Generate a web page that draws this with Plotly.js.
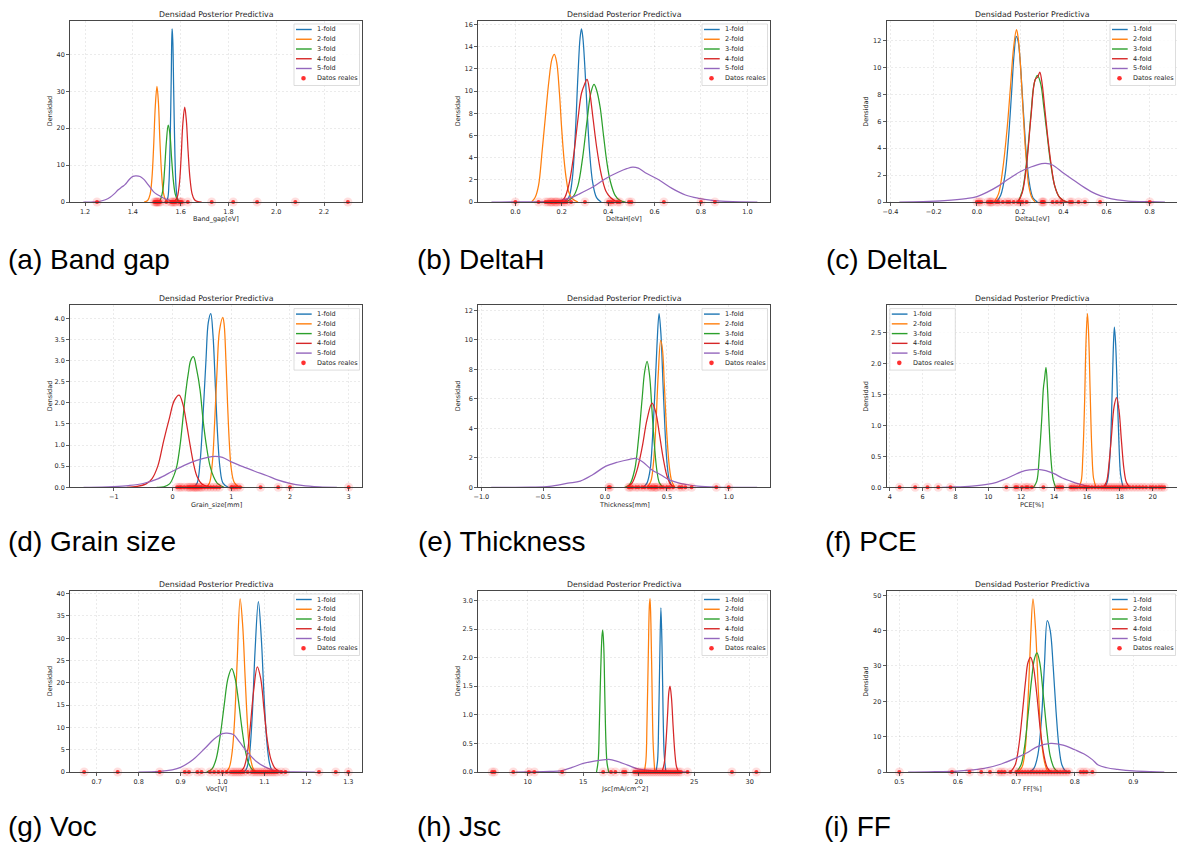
<!DOCTYPE html>
<html>
<head>
<meta charset="utf-8">
<script src="https://cdn.plot.ly/plotly-3.0.1.min.js"></script>
<style>
html,body{margin:0;padding:0;background:#fff;overflow:hidden}
#chart{width:1177px;height:844px}
</style>
</head>
<body>
<div id="chart"></div>
<script>
// ---------------- DATA ----------------
const foldNames = ["1-fold", "2-fold", "3-fold", "4-fold", "5-fold"];
const realLabel = "Datos reales";
const plotTitle = "Densidad Posterior Predictiva";
const yLabel = "Densidad";
const captions = ["(a) Band gap", "(b) DeltaH", "(c) DeltaL", "(d) Grain size", "(e) Thickness", "(f) PCE", "(g) Voc", "(h) Jsc", "(i) FF"];
const xLabels = ["Band_gap[eV]", "DeltaH[eV]", "DeltaL[eV]", "Grain_size[mm]", "Thickness[mm]", "PCE[%]", "Voc[V]", "Jsc[mA/cm^2]", "FF[%]"];

// (a) Band gap  [x, density]
const bandGap1 = [[1.535,0],[1.545,0.8],[1.551,5],[1.556,16],[1.561,35],[1.564,46.9],[1.567,44],[1.571,30],[1.576,13],[1.581,4],[1.587,0.8],[1.595,0]];
const bandGap2 = [[1.447,0],[1.462,0.4],[1.472,2],[1.48,6.5],[1.487,15],[1.494,26],[1.501,31.3],[1.507,27],[1.513,17],[1.52,8],[1.528,2.5],[1.538,0.5],[1.55,0]];
const bandGap3 = [[1.505,0],[1.515,0.6],[1.525,3],[1.533,9],[1.54,16],[1.548,20.8],[1.555,18.5],[1.562,12],[1.57,5.5],[1.578,2],[1.588,0.4],[1.6,0]];
const bandGap4 = [[1.57,0],[1.584,1],[1.594,4.5],[1.602,12],[1.609,21],[1.617,25.7],[1.624,22],[1.631,14],[1.639,6.5],[1.648,2.2],[1.658,0.6],[1.672,0.1],[1.688,0]];
const bandGap5 = [[1.193,0],[1.24,0.05],[1.263,0.2],[1.285,0.6],[1.305,1.3],[1.322,2.2],[1.339,3.3],[1.355,4.1],[1.367,4.7],[1.385,6.1],[1.40,6.95],[1.415,7.05],[1.43,6.9],[1.445,6.2],[1.458,5.2],[1.472,4.0],[1.486,2.8],[1.5,2.1],[1.514,1.6],[1.528,1.1],[1.541,0.7],[1.555,0.4],[1.57,0.2],[1.59,0.05],[1.61,0]];
const bandGapReal = [1.25,1.49,1.495,1.50,1.50,1.505,1.51,1.515,1.54,1.56,1.565,1.57,1.575,1.58,1.595,1.60,1.605,1.63,1.73,1.82,1.92,2.08,2.30];

// (b) DeltaH
const deltaH1 = [[0.21,0],[0.23,0.4],[0.245,2],[0.258,6],[0.27,11.5],[0.279,14.8],[0.285,15.6],[0.291,14.8],[0.30,12],[0.31,8],[0.32,4.5],[0.333,1.8],[0.35,0.4],[0.37,0]];
const deltaH2 = [[0.07,0],[0.085,0.4],[0.10,1.5],[0.115,4.5],[0.13,7.8],[0.145,11],[0.158,12.9],[0.168,13.3],[0.178,12.6],[0.19,9.8],[0.20,6.5],[0.21,3.8],[0.22,2],[0.23,0.9],[0.245,0.3],[0.27,0]];
const deltaH3 = [[0.22,0],[0.25,0.5],[0.27,1.5],[0.29,4],[0.31,7.5],[0.325,9.8],[0.339,10.6],[0.35,10.1],[0.365,8.6],[0.38,6],[0.395,3.5],[0.41,1.8],[0.43,0.6],[0.45,0.15],[0.475,0]];
const deltaH4 = [[0.19,0],[0.21,0.3],[0.23,1.5],[0.25,4],[0.27,7.5],[0.285,9.8],[0.298,10.6],[0.309,11.05],[0.32,10],[0.335,7.5],[0.35,5],[0.37,2.5],[0.39,1],[0.41,0.4],[0.43,0.1],[0.45,0]];
const deltaH5 = [[-0.103,0],[0.05,0.01],[0.15,0.06],[0.2,0.18],[0.24,0.4],[0.273,0.7],[0.33,1.3],[0.388,2.1],[0.445,2.7],[0.48,3.0],[0.506,3.15],[0.53,3.05],[0.56,2.64],[0.618,2.0],[0.675,1.23],[0.733,0.63],[0.79,0.33],[0.848,0.15],[0.905,0.06],[0.97,0.01],[1.043,0]];
const deltaHReal = [0.0,0.10,0.13,0.14,0.15,0.155,0.16,0.17,0.175,0.18,0.19,0.20,0.21,0.22,0.24,0.30,0.40,0.41,0.42,0.44,0.45,0.49,0.50,0.64,0.80,0.86];

// (c) DeltaL
const deltaL1 = [[0.09,0],[0.11,0.5],[0.13,2],[0.145,4.5],[0.16,8],[0.172,11],[0.182,12.3],[0.19,12],[0.20,10.5],[0.21,8],[0.22,5.5],[0.23,3.2],[0.245,1.2],[0.26,0.3],[0.28,0]];
const deltaL2 = [[0.08,0],[0.10,0.6],[0.12,2.5],[0.14,5.5],[0.155,8.5],[0.17,11.5],[0.183,12.8],[0.19,12.3],[0.20,10.5],[0.21,7.8],[0.22,5],[0.23,2.8],[0.24,1.2],[0.255,0.3],[0.27,0]];
const deltaL3 = [[0.19,0],[0.21,0.8],[0.23,3],[0.25,6.5],[0.265,8.8],[0.28,9.4],[0.295,8.8],[0.31,7],[0.325,5],[0.34,3],[0.36,1.2],[0.38,0.4],[0.40,0.1],[0.42,0]];
const deltaL4 = [[0.19,0],[0.21,0.7],[0.23,2.8],[0.25,6.3],[0.27,9.1],[0.282,9.3],[0.291,9.65],[0.30,9.0],[0.315,6.8],[0.33,4.5],[0.345,2.6],[0.36,1.2],[0.38,0.4],[0.40,0.1],[0.42,0]];
const deltaL5 = [[-0.359,0],[-0.25,0.03],[-0.15,0.1],[-0.05,0.25],[0.0,0.4],[0.05,0.75],[0.1,1.2],[0.15,1.75],[0.2,2.25],[0.25,2.6],[0.3,2.85],[0.319,2.87],[0.35,2.75],[0.4,2.15],[0.45,1.6],[0.5,1.05],[0.55,0.6],[0.6,0.32],[0.65,0.15],[0.7,0.07],[0.8,0.02],[0.87,0]];
const deltaLReal = [0.0,0.01,0.02,0.05,0.06,0.065,0.07,0.09,0.10,0.12,0.14,0.15,0.17,0.19,0.20,0.21,0.23,0.30,0.305,0.31,0.35,0.37,0.39,0.43,0.44,0.47,0.50,0.57,0.80];

// (d) Grain size
const grain1 = [[0.36,0],[0.42,0.1],[0.47,0.6],[0.52,1.7],[0.57,3.0],[0.61,3.9],[0.652,4.11],[0.69,3.6],[0.73,2.4],[0.77,1.2],[0.81,0.45],[0.86,0.1],[0.95,0]];
const grain2 = [[0.58,0],[0.63,0.1],[0.68,0.6],[0.72,1.6],[0.76,2.8],[0.80,3.7],[0.857,4.02],[0.88,3.85],[0.91,3.0],[0.94,1.9],[0.97,1.0],[1.0,0.45],[1.05,0.12],[1.12,0.02],[1.2,0]];
const grain3 = [[-0.27,0],[-0.15,0.01],[-0.05,0.08],[0.03,0.3],[0.074,0.5],[0.13,1.0],[0.187,1.75],[0.23,2.3],[0.27,2.7],[0.31,3.0],[0.357,3.09],[0.41,2.8],[0.47,2.3],[0.52,1.6],[0.58,0.96],[0.64,0.5],[0.7,0.25],[0.76,0.1],[0.81,0.05],[0.88,0]];
const grain4 = [[-0.78,0],[-0.6,0.02],[-0.45,0.08],[-0.35,0.2],[-0.25,0.5],[-0.15,1.1],[-0.05,1.65],[0.03,2.05],[0.113,2.18],[0.18,1.95],[0.24,1.5],[0.3,1.0],[0.36,0.55],[0.42,0.25],[0.5,0.08],[0.6,0.02],[0.7,0]];
const grain5 = [[-1.514,0],[-1.2,0.005],[-1.0,0.015],[-0.75,0.04],[-0.5,0.09],[-0.25,0.2],[0.0,0.38],[0.2,0.52],[0.4,0.63],[0.6,0.71],[0.726,0.73],[0.85,0.71],[1.0,0.6],[1.2,0.49],[1.4,0.38],[1.6,0.28],[1.8,0.17],[2.0,0.095],[2.2,0.045],[2.5,0.01],[2.8,0]];
const grainReal = [0.08,0.12,0.15,0.2,0.25,0.28,0.3,0.33,0.36,0.38,0.4,0.42,0.45,0.48,0.5,0.55,0.6,0.65,0.7,0.75,0.8,1.0,1.02,1.06,1.1,1.15,1.5,1.8,2.0,3.0];

// (e) Thickness
const thick1 = [[0.31,0],[0.34,0.3],[0.365,1.2],[0.385,3.5],[0.405,6.8],[0.42,9.6],[0.437,11.77],[0.452,10.4],[0.468,7.2],[0.485,3.9],[0.502,1.6],[0.52,0.5],[0.545,0]];
const thick2 = [[0.34,0],[0.37,0.4],[0.39,1.5],[0.41,4.0],[0.43,7.6],[0.45,9.97],[0.465,9.3],[0.48,6.9],[0.50,3.6],[0.52,1.4],[0.54,0.4],[0.565,0]];
const thick3 = [[0.16,0],[0.20,0.2],[0.24,1.2],[0.27,3.2],[0.30,6.0],[0.32,7.8],[0.34,8.54],[0.36,7.6],[0.38,5.2],[0.40,2.8],[0.42,1.1],[0.44,0.3],[0.47,0]];
const thick4 = [[0.18,0],[0.22,0.3],[0.26,1.2],[0.30,2.7],[0.34,4.6],[0.38,5.7],[0.41,5.1],[0.44,3.6],[0.47,2.0],[0.50,0.8],[0.53,0.2],[0.56,0]];
const thick5 = [[-0.92,0],[-0.6,0.01],[-0.45,0.06],[-0.3,0.28],[-0.2,0.42],[-0.1,0.85],[0.0,1.4],[0.1,1.7],[0.2,1.9],[0.25,1.96],[0.3,1.75],[0.38,1.18],[0.45,0.85],[0.52,0.5],[0.6,0.28],[0.65,0.2],[0.75,0.08],[0.9,0.02],[1.23,0]];
const thickReal = [0.03,0.04,0.19,0.2,0.22,0.25,0.27,0.3,0.32,0.35,0.37,0.38,0.4,0.41,0.42,0.45,0.47,0.5,0.52,0.55,0.6,0.62,0.65,0.7,0.9,1.0];

// (f) PCE
const pce1 = [[17.1,0],[17.25,0.1],[17.4,0.5],[17.5,1.2],[17.6,2.2],[17.67,2.59],[17.75,2.3],[17.85,1.5],[17.95,0.7],[18.05,0.2],[18.2,0]];
const pce2 = [[15.5,0],[15.65,0.1],[15.75,0.5],[15.85,1.3],[15.95,2.4],[16.03,2.81],[16.1,2.5],[16.2,1.5],[16.3,0.6],[16.4,0.15],[16.55,0]];
const pce3 = [[12.75,0],[12.95,0.1],[13.1,0.5],[13.25,1.1],[13.35,1.6],[13.42,1.75],[13.51,1.94],[13.6,1.6],[13.7,1.0],[13.8,0.5],[13.95,0.12],[14.1,0]];
const pce4 = [[17.0,0],[17.2,0.1],[17.35,0.4],[17.5,0.85],[17.65,1.3],[17.8,1.45],[17.95,1.25],[18.1,0.75],[18.25,0.3],[18.4,0.08],[18.6,0]];
const pce5 = [[7.2,0],[8.0,0.005],[9.0,0.02],[10.0,0.05],[10.5,0.08],[11.0,0.13],[11.5,0.19],[12.0,0.25],[12.5,0.28],[13.0,0.29],[13.5,0.27],[14.0,0.22],[14.5,0.15],[15.0,0.1],[15.5,0.055],[16.0,0.02],[16.5,0.005],[17.0,0]];
const pceReal = [4.6,5.55,6.3,6.95,7.7,11.1,11.65,11.75,12.05,12.3,12.4,12.65,13.35,14.2,14.35,14.5,15.0,15.1,15.25,15.4,15.6,15.8,15.95,16.1,16.3,16.5,16.7,16.9,17.05,17.2,17.35,17.5,17.65,17.8,17.95,18.1,18.25,18.4,18.6,18.8,19.0,19.2,19.4,19.6,19.85,20.0,20.2,20.4,20.55,20.7];

// (g) Voc
const voc1 = [[1.05,0],[1.056,0.5],[1.063,3],[1.0705,12],[1.0775,27],[1.0855,38.2],[1.0925,30],[1.099,17],[1.1055,7],[1.112,2],[1.118,0.4],[1.125,0]];
const voc2 = [[1.008,0],[1.016,1],[1.023,4.5],[1.029,12],[1.035,25],[1.042,38.8],[1.048,33],[1.054,21],[1.06,10],[1.066,3.5],[1.073,0.8],[1.08,0]];
const voc3 = [[0.962,0],[0.975,0.7],[0.985,3],[0.995,8.5],[1.004,15],[1.013,21],[1.022,23.2],[1.03,21],[1.038,16],[1.046,10],[1.054,5],[1.062,2],[1.072,0.4],[1.08,0]];
const voc4 = [[1.04,0],[1.05,0.8],[1.058,3.5],[1.066,10],[1.074,18],[1.083,23.6],[1.091,21],[1.099,14],[1.107,7],[1.115,3],[1.124,1],[1.133,0.3],[1.14,0]];
const voc5 = [[0.8,0],[0.85,0.15],[0.88,0.5],[0.9,1.05],[0.93,2.8],[0.96,5.5],[0.98,7.4],[1.0,8.6],[1.01,8.7],[1.026,8.4],[1.04,6.8],[1.058,4.6],[1.08,2.4],[1.1,1.2],[1.12,0.45],[1.14,0.15],[1.17,0.03],[1.22,0]];
const vocReal = [0.67,0.75,0.85,0.91,0.92,0.94,0.95,0.97,0.98,0.99,1.0,1.01,1.02,1.025,1.03,1.035,1.04,1.045,1.05,1.06,1.07,1.075,1.08,1.085,1.09,1.095,1.1,1.105,1.11,1.115,1.12,1.125,1.13,1.14,1.15,1.23,1.27,1.30];

// (h) Jsc
const jsc1 = [[21.55,0],[21.7,0.2],[21.8,0.9],[21.9,2.0],[22.0,2.87],[22.1,2.2],[22.2,1.0],[22.3,0.3],[22.45,0]];
const jsc2 = [[20.5,0],[20.65,0.2],[20.75,0.9],[20.87,2.1],[20.96,2.9],[21.02,3.03],[21.1,2.6],[21.2,1.5],[21.3,0.5],[21.45,0]];
const jsc3 = [[16.2,0],[16.35,0.2],[16.45,0.8],[16.58,1.8],[16.7,2.4],[16.76,2.48],[16.85,2.2],[16.95,1.3],[17.05,0.5],[17.15,0.15],[17.3,0]];
const jsc4 = [[22.1,0],[22.3,0.15],[22.45,0.5],[22.6,1.0],[22.72,1.4],[22.82,1.5],[22.95,1.3],[23.1,0.8],[23.25,0.35],[23.4,0.1],[23.6,0]];
const jsc5 = [[8.9,0],[10.0,0.003],[12.0,0.01],[13.0,0.02],[14.0,0.08],[15.0,0.15],[16.0,0.19],[17.0,0.215],[17.3,0.22],[18.0,0.19],[19.0,0.12],[20.0,0.05],[21.0,0.03],[22.0,0.02],[23.5,0.005],[24.5,0]];
const jscReal = [6.8,7.0,8.7,10.1,10.6,13.1,16.8,17.5,17.9,18.6,18.8,19.6,19.8,20.0,20.2,20.4,20.6,20.8,21.0,21.2,21.4,21.6,21.8,22.0,22.2,22.4,22.6,22.8,23.0,23.2,23.4,23.6,23.8,24.4,28.4,30.6];

// (i) FF
const ff1 = [[0.722,0],[0.73,1],[0.737,5],[0.743,15],[0.748,30],[0.753,42.8],[0.758,40],[0.763,30],[0.768,17],[0.773,7],[0.778,2],[0.784,0.3],[0.79,0]];
const ff2 = [[0.703,0],[0.71,1.5],[0.715,6],[0.72,20],[0.7245,38],[0.7285,49],[0.733,40],[0.738,22],[0.743,9],[0.748,3],[0.753,0.5],[0.758,0]];
const ff3 = [[0.70,0],[0.708,2],[0.714,7],[0.72,16],[0.726,26],[0.731,32],[0.7353,33.7],[0.74,31],[0.746,22],[0.752,12],[0.758,4.5],[0.765,1],[0.772,0]];
const ff4 = [[0.69,0],[0.698,2],[0.704,7],[0.71,16],[0.716,26],[0.72,31],[0.7245,32.4],[0.729,30],[0.735,22],[0.741,12],[0.747,5],[0.753,1.2],[0.76,0]];
const ff5 = [[0.515,0],[0.55,0.05],[0.6,0.25],[0.645,1.0],[0.673,2.2],[0.7,4.0],[0.72,5.6],[0.736,7.2],[0.759,8.1],[0.78,7.6],[0.8,6.3],[0.816,5.1],[0.83,3.5],[0.84,2.0],[0.855,1.2],[0.873,0.75],[0.9,0.3],[0.93,0.08],[0.953,0]];
const ffReal = [0.5,0.59,0.62,0.64,0.655,0.67,0.675,0.68,0.69,0.70,0.705,0.71,0.715,0.72,0.725,0.73,0.735,0.74,0.745,0.75,0.755,0.76,0.765,0.77,0.775,0.78,0.785,0.79,0.81,0.815,0.82,0.83];

const curveSets = [
  [bandGap1, bandGap2, bandGap3, bandGap4, bandGap5],
  [deltaH1, deltaH2, deltaH3, deltaH4, deltaH5],
  [deltaL1, deltaL2, deltaL3, deltaL4, deltaL5],
  [grain1, grain2, grain3, grain4, grain5],
  [thick1, thick2, thick3, thick4, thick5],
  [pce1, pce2, pce3, pce4, pce5],
  [voc1, voc2, voc3, voc4, voc5],
  [jsc1, jsc2, jsc3, jsc4, jsc5],
  [ff1, ff2, ff3, ff4, ff5]
];
const realSets = [bandGapReal, deltaHReal, deltaLReal, grainReal, thickReal, pceReal, vocReal, jscReal, ffReal];

// ---------------- STYLE / LAYOUT ----------------
const W = 1177, H = 844;
const foldColors = ["#1f77b4", "#ff7f0e", "#2ca02c", "#d62728", "#9467bd"];
const FONT = "DejaVu Sans, Verdana, sans-serif";
const TXT = "#262626";

// pixel frames of each plot area; vr = virtual right edge (plot cut by page edge)
const frames = [
  {l:70,    r:362,  vr:362,  t:20.7,  b:202,   xr:[1.137,2.359],   x0:1.2,  dx:0.2, xf:".1f", yr:[0,49.1],  dy:10,  yf:"",    leg:"right", cap:[6,259.5]},
  {l:478,   r:770,  vr:770,  t:20.7,  b:202,   xr:[-0.161,1.0975], x0:0,    dx:0.2, xf:".1f", yr:[0,16.34], dy:2,   yf:"",    leg:"right", cap:[415,259.5]},
  {l:886.5, r:1177, vr:1178, t:20.7,  b:202,   xr:[-0.4185,0.926], x0:-0.4, dx:0.2, xf:".1f", yr:[0,13.47], dy:2,   yf:"",    leg:"right", cap:[823.5,259.5], cut:true},
  {l:70,    r:362,  vr:362,  t:305.3, b:487.3, xr:[-1.745,3.227],  x0:-1,   dx:1,   xf:"",    yr:[0,4.306], dy:0.5, yf:".1f", leg:"right", cap:[6,541]},
  {l:478,   r:770,  vr:770,  t:305.3, b:487.3, xr:[-1.027,1.334],  x0:-1,   dx:0.5, xf:".1f", yr:[0,12.34], dy:2,   yf:"",    leg:"right", cap:[416,541]},
  {l:886.5, r:1177, vr:1178, t:305.3, b:487.3, xr:[3.805,21.48],   x0:4,    dx:2,   xf:"",    yr:[0,2.943], dy:0.5, yf:".1f", leg:"left",  cap:[822.5,541], cut:true},
  {l:70,    r:362,  vr:362,  t:590.7, b:772,   xr:[0.6363,1.3326], x0:0.7,  dx:0.1, xf:".1f", yr:[0,40.66], dy:5,   yf:"",    leg:"right", cap:[6,826]},
  {l:478,   r:770,  vr:770,  t:590.7, b:772,   xr:[5.52,31.83],    x0:10,   dx:5,   xf:"",    yr:[0,3.17],  dy:0.5, yf:".1f", leg:"right", cap:[415,826]},
  {l:886.5, r:1177, vr:1178, t:590.7, b:772,   xr:[0.4781,0.9747], x0:0.5,  dx:0.1, xf:".1f", yr:[0,51.3],  dy:10,  yf:"",    leg:"right", cap:[822,826], cut:true}
];

const PX = v => v / W;
const PY = v => 1 - v / H;

const axisBase = {
  showline: true, linecolor: "#333", linewidth: 0.9, mirror: true,
  ticks: "outside", ticklen: 3, tickwidth: 0.8, tickcolor: "#333",
  tickfont: {family: FONT, size: 6.5, color: TXT},
  showgrid: true, gridcolor: "rgba(0,0,0,0.13)", gridwidth: 0.6, griddash: "2px,2px",
  zeroline: false, fixedrange: true, tickmode: "linear"
};

const traces = [];
const annotations = [];
const shapes = [];
const layout = {
  width: W, height: H, margin: {l: 0, r: 0, t: 0, b: 0},
  paper_bgcolor: "#fff", plot_bgcolor: "#fff", showlegend: false,
  font: {family: FONT, color: TXT}
};

function ann(text, x, y, size, opts) {
  annotations.push(Object.assign({
    text: text, x: PX(x), y: PY(y), xref: "paper", yref: "paper",
    showarrow: false, xanchor: "center", yanchor: "middle",
    font: {family: FONT, size: size, color: TXT}, borderpad: 0
  }, opts || {}));
}

frames.forEach((f, i) => {
  const n = i === 0 ? "" : String(i + 1);
  const xa = "x" + n, ya = "y" + n;
  layout["xaxis" + n] = Object.assign({}, axisBase, {
    domain: [PX(f.l), Math.min(PX(f.r), 1)], anchor: ya, range: f.xr,
    tick0: f.x0, dtick: f.dx, tickformat: f.xf
  });
  layout["yaxis" + n] = Object.assign({}, axisBase, {
    domain: [PY(f.b), PY(f.t)], anchor: xa, range: f.yr,
    tick0: 0, dtick: f.dy, tickformat: f.yf, mirror: f.cut ? false : true
  });

  // KDE curves
  curveSets[i].forEach((c, j) => {
    traces.push({
      type: "scatter", mode: "lines", xaxis: xa, yaxis: ya,
      x: c.map(d => d[0]), y: c.map(d => d[1]),
      name: foldNames[j],
      line: {color: foldColors[j], width: 1.25, shape: "spline", smoothing: 1},
      hoverinfo: "skip", showlegend: false
    });
  });
  // real data: halo + core
  const rx = realSets[i];
  traces.push({
    type: "scatter", mode: "markers", xaxis: xa, yaxis: ya,
    x: rx, y: rx.map(() => 0), cliponaxis: false,
    marker: {size: 9, color: "rgba(255,0,0,0.13)", line: {width: 0}},
    hoverinfo: "skip", showlegend: false
  });
  traces.push({
    type: "scatter", mode: "markers", xaxis: xa, yaxis: ya,
    x: rx, y: rx.map(() => 0), cliponaxis: false, name: realLabel,
    marker: {size: 4, color: "rgba(255,25,25,0.85)", line: {width: 0}},
    hoverinfo: "skip", showlegend: false
  });

  const cx = (f.l + f.vr) / 2;
  ann(plotTitle, cx, f.t - 6.7, 7.8);
  ann(xLabels[i], cx, f.b + 17.3, 6.5);
  ann(yLabel, f.l - 20, (f.t + f.b) / 2, 6.5, {textangle: -90});
  annotations.push({
    text: captions[i], x: PX(f.cap[0]), y: PY(f.cap[1]), xref: "paper", yref: "paper",
    showarrow: false, xanchor: "left", yanchor: "middle",
    font: {family: "Liberation Sans, Arial, Helvetica, sans-serif", size: 28, color: "#000"}
  });

  // legend (frame of shapes + text)
  const bw = 65.5, bh = 61.5;
  const bl = f.leg === "left" ? f.l + 3.3 : f.vr - 2.5 - bw;
  const bt = f.t + 3.3;
  shapes.push({
    type: "rect", xref: "paper", yref: "paper", layer: "above",
    x0: PX(bl), x1: PX(bl + bw), y0: PY(bt), y1: PY(bt + bh),
    fillcolor: "rgba(255,255,255,0.85)", line: {color: "#d4d4d4", width: 0.8}
  });
  const labels = foldNames.concat([realLabel]);
  labels.forEach((lab, k) => {
    const yy = bt + 5.5 + 9.75 * k;
    if (k < 5) {
      shapes.push({
        type: "line", xref: "paper", yref: "paper", layer: "above",
        x0: PX(bl + 2), x1: PX(bl + 17.7), y0: PY(yy), y1: PY(yy),
        line: {color: foldColors[k], width: 1.4}
      });
    } else {
      const r = 2.3, cxm = bl + 9.5;
      shapes.push({
        type: "circle", xref: "paper", yref: "paper", layer: "above",
        x0: PX(cxm - r), x1: PX(cxm + r), y0: PY(yy + r), y1: PY(yy - r),
        fillcolor: "rgba(255,25,25,0.9)", line: {width: 0}
      });
    }
    ann(lab, bl + 21.7, yy, 6.5, {xanchor: "left"});
  });
});

layout.annotations = annotations;
layout.shapes = shapes;

Plotly.newPlot("chart", traces, layout, {staticPlot: true, displayModeBar: false});
</script>
</body>
</html>
